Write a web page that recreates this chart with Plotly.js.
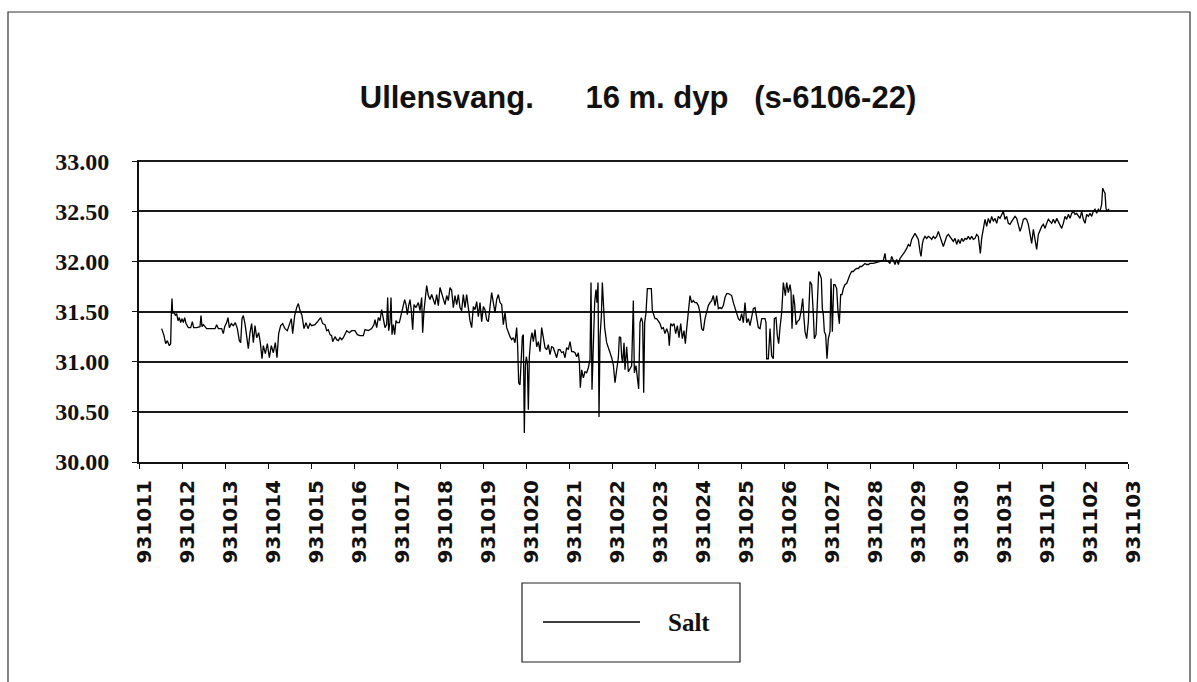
<!DOCTYPE html>
<html>
<head>
<meta charset="utf-8">
<script src="https://cdn.plot.ly/plotly-3.0.1.min.js"></script>
<style>
  html, body { margin: 0; padding: 0; background: #fff; }
  #chart { width: 1197px; height: 682px; }
</style>
</head>
<body>
<div id="chart"></div>
<script>
// ---- Data: salinity record, hours since 1993-10-11 00:00 and salt values ----
const seriesName = "Salt";
const chartTitle = "Ullensvang.\u00A0\u00A0\u00A0\u00A0\u00A0\u00A016 m. dyp\u00A0\u00A0\u00A0(s-6106-22)";
const yTickValues = [30.0, 30.5, 31.0, 31.5, 32.0, 32.5, 33.0];

const hoursA = [12.65,13.95,14.88,15.81,16.93,17.67,18.05,18.42,18.79,19.54,
  20.28,21.02,21.77,22.51,23.26,24.00,24.74,25.49,26.23,27.54,
  28.84,29.77,30.51,32.19,34.05,34.61,35.16,35.91,37.77,40.56,
  42.42,43.35,44.28,46.14,47.07,47.81,48.93,49.68,50.42,51.54,
  52.65,53.77,54.88,56.00,56.75,57.49,58.23,59.16,60.09,61.02,
  61.95,62.88,63.82,64.75,65.68,66.79,67.72,68.65,69.40,70.51,
  71.63,72.75,73.86,74.98,76.09,77.02,77.95,79.07,80.19,81.49,
  82.79,83.91,85.02,85.77,86.89,88.00,88.93,89.86,90.98,92.09,
  93.21,94.33,95.44];
const saltA = [31.33,31.26,31.18,31.21,31.16,31.18,31.48,31.63,31.48,31.50,
  31.46,31.48,31.41,31.44,31.39,31.43,31.39,31.44,31.38,31.34,
  31.34,31.40,31.34,31.34,31.35,31.46,31.35,31.37,31.33,31.33,
  31.33,31.37,31.33,31.33,31.28,31.35,31.39,31.44,31.34,31.38,
  31.36,31.39,31.33,31.21,31.19,31.43,31.46,31.38,31.23,31.13,
  31.29,31.38,31.19,31.36,31.24,31.29,31.19,31.03,31.16,31.08,
  31.18,31.04,31.16,31.09,31.19,31.04,31.28,31.36,31.38,31.33,
  31.31,31.38,31.43,31.28,31.46,31.54,31.58,31.51,31.46,31.33,
  31.39,31.33,31.38];

const hoursB = [96.37,98.23,100.09,101.40,102.51,103.82,104.75,105.68,106.61,107.54,
  108.10,109.40,110.33,111.26,112.19,113.12,114.05,114.98,115.91,117.40,
  118.70,120.56,121.86,123.35,125.21,126.14,128.00,129.86,131.17,131.72,
  132.65,133.58,134.51,135.44,136.37,137.30,138.23,138.79,139.35,140.10,
  140.65,141.21,141.96,142.70,143.44,144.19,145.30,146.42,147.54,148.28,
  149.03,149.77,150.51,151.26,152.00,152.75,153.49,154.61,155.91,156.84,
  157.77,158.33,159.07,159.82,160.56,161.49,162.42,163.35,164.28,165.21,
  166.14,167.07,168.00,168.93,169.86,170.79,171.72,172.65,173.58,174.51,
  175.44,176.37,177.30,178.23,179.16,180.09,181.02,181.95,182.88,183.81,
  184.74];
const saltB = [31.36,31.37,31.41,31.44,31.38,31.37,31.31,31.32,31.27,31.26,
  31.20,31.25,31.22,31.21,31.24,31.22,31.24,31.27,31.31,31.29,
  31.31,31.31,31.27,31.26,31.26,31.32,31.31,31.33,31.37,31.42,
  31.34,31.44,31.41,31.52,31.41,31.34,31.37,31.64,31.31,31.39,
  31.64,31.27,31.37,31.27,31.41,31.39,31.39,31.49,31.57,31.62,
  31.57,31.47,31.56,31.62,31.51,31.32,31.57,31.54,31.59,31.51,
  31.64,31.29,31.51,31.67,31.76,31.66,31.62,31.67,31.61,31.57,
  31.67,31.56,31.74,31.69,31.64,31.57,31.66,31.61,31.74,31.71,
  31.54,31.66,31.57,31.67,31.54,31.51,31.67,31.54,31.67,31.52,
  31.41];

const hoursC = [185.68,186.61,187.54,188.47,189.40,190.33,191.26,192.19,193.12,194.05,
  194.98,195.91,196.84,197.77,198.70,199.63,200.56,201.49,202.42,203.35,
  204.28,205.21,206.14,207.07,208.00,208.93,209.86,210.79,211.35,211.91,
  212.65,213.21,213.96,214.52,215.07,215.63,216.19,216.75,217.31,217.86,
  218.61,219.35,220.10,221.03,221.96,222.89,223.82,224.75,225.68,226.61,
  227.54,228.47,229.40,230.33,231.26,232.19,233.12,234.05,234.98,235.91,
  236.84,237.77,238.70,239.63,240.56,241.49,242.42,243.35,244.28,245.21,
  245.77,246.33,247.07,248.00,248.93,249.86,250.79,251.72,252.28,252.84,
  253.58,254.33,255.07,255.63,256.19,256.75,257.31,258.05,258.61,259.17,
  259.91,261.03,261.96,262.89,263.82,264.75,265.68,266.61,267.54,268.10,
  268.84,269.40,269.96,270.71,271.26,272.19,273.12];
const saltC = [31.34,31.55,31.52,31.60,31.45,31.59,31.40,31.55,31.52,31.42,
  31.40,31.57,31.69,31.59,31.49,31.62,31.67,31.59,31.57,31.37,
  31.49,31.34,31.29,31.25,31.22,31.24,31.19,31.34,31.15,30.79,
  30.77,31.02,31.25,31.27,30.29,30.95,31.05,30.99,30.52,31.05,
  31.22,31.29,31.20,31.32,31.15,31.20,31.10,31.34,31.25,31.14,
  31.12,31.17,31.07,31.15,31.14,31.09,31.04,31.12,31.12,31.09,
  31.10,31.04,31.14,31.12,31.20,31.10,31.10,31.09,31.05,31.09,
  31.00,30.74,30.92,30.84,30.90,30.89,30.94,31.02,31.79,30.72,
  31.29,31.59,31.72,31.59,31.79,30.45,31.25,31.45,31.79,31.59,
  31.34,31.19,31.14,31.10,31.04,30.97,30.79,30.92,31.04,31.25,
  31.24,31.05,30.99,31.19,30.92,31.15,30.90];

const hoursD = [274.05,274.98,275.91,276.47,277.40,278.14,278.89,279.63,280.38,281.12,
  281.68,282.24,282.98,283.73,284.84,285.96,286.52,287.08,288.01,288.94,
  289.87,290.80,291.73,292.66,293.59,294.52,295.45,296.00,296.75,297.68,
  298.61,299.54,300.47,301.40,302.33,303.26,304.19,304.94,305.68,306.61,
  307.54,308.47,309.40,310.33,311.26,312.19,313.12,314.05,314.98,315.91,
  316.84,317.77,318.70,319.63,320.56,321.49,322.42,323.35,324.28,325.21,
  326.14,327.07,328.00,328.93,329.86,330.79,331.73,332.66,333.59,334.52,
  335.45,336.38,337.31,338.24,339.17,340.10,341.03,341.96,342.89,343.82,
  344.75,345.68,346.61,347.54,348.47,349.40,349.96,350.33,351.26,352.19,
  353.12,354.05,354.61,355.54,356.28,357.03,357.77,358.70,359.63,360.19,
  360.75,361.49,362.42];
const saltD = [30.93,30.96,31.61,30.89,30.96,30.83,30.73,31.39,31.44,31.39,
  30.69,31.39,31.49,31.73,31.73,31.73,31.51,31.48,31.43,31.43,
  31.41,31.38,31.33,31.34,31.28,31.33,31.28,31.16,31.38,31.36,
  31.38,31.28,31.36,31.24,31.38,31.23,31.31,31.18,31.33,31.49,
  31.66,31.59,31.61,31.59,31.59,31.56,31.49,31.33,31.31,31.43,
  31.49,31.56,31.59,31.61,31.66,31.56,31.66,31.53,31.54,31.53,
  31.56,31.64,31.68,31.68,31.67,31.66,31.59,31.54,31.49,31.43,
  31.41,31.48,31.39,31.59,31.39,31.43,31.36,31.46,31.53,31.54,
  31.44,31.34,31.33,31.43,31.43,31.43,31.39,31.03,31.03,31.33,
  31.06,31.03,31.43,31.44,31.26,31.18,31.34,31.49,31.79,31.73,
  31.66,31.79,31.69];

const hoursE = [363.35,363.91,364.47,365.22,365.96,366.70,367.45,368.57,369.50,370.43,
  371.17,371.73,372.66,373.59,374.52,375.45,376.38,376.94,377.87,378.61,
  379.36,380.10,380.84,381.40,381.96,382.52,383.26,384.00,384.75,385.68,
  386.24,386.98,387.73,388.47,389.40,390.14,390.89,391.63,392.38,393.12,
  394.05,394.98,395.91,396.84,397.77,398.70,399.63,400.56,401.49,402.42,
  403.35,404.28,405.21,406.14,407.07,408.00,409.86,411.73,413.59,415.45,
  416.38,416.94,418.24,419.17,420.10,421.03,421.96,422.89,423.82,424.75,
  425.68,426.61,427.54,428.47,429.40,430.33,431.26,432.19,433.12,434.05,
  434.98,435.91,436.47,437.21,437.77,438.70,439.63,440.56,441.49,442.42,
  443.35,444.28,445.21,446.14,447.07,448.00,448.93,449.86,450.79,451.73,
  452.66,453.59,454.52];
const saltE = [31.77,31.70,31.33,31.67,31.57,31.37,31.40,31.42,31.50,31.63,
  31.43,31.30,31.23,31.40,31.80,31.77,31.47,31.23,31.27,31.57,
  31.90,31.87,31.83,31.53,31.47,31.30,31.27,31.03,31.23,31.30,
  31.83,31.30,31.77,31.77,31.73,31.50,31.38,31.67,31.67,31.73,
  31.77,31.78,31.83,31.87,31.90,31.90,31.92,31.93,31.93,31.95,
  31.95,31.97,31.98,31.97,31.97,31.98,31.98,31.99,32.00,32.01,
  32.08,32.00,32.00,31.98,32.05,32.00,31.97,32.02,31.97,32.03,
  32.05,32.07,32.10,32.13,32.17,32.15,32.22,32.25,32.28,32.25,
  32.22,32.10,32.05,32.17,32.22,32.25,32.23,32.25,32.24,32.22,
  32.25,32.23,32.25,32.30,32.25,32.22,32.15,32.20,32.25,32.27,
  32.25,32.22,32.20];

const hoursF = [455.45,456.38,457.31,458.24,459.17,460.10,461.03,461.96,462.89,463.82,
  464.75,465.68,466.61,467.54,468.47,469.03,469.59,470.33,471.26,472.19,
  473.12,474.05,474.98,475.91,476.84,477.77,478.70,479.63,480.56,481.49,
  482.42,483.35,484.28,485.21,486.14,487.07,488.00,488.93,489.86,490.79,
  491.73,492.66,493.59,494.52,495.45,496.38,497.31,498.24,499.17,500.10,
  501.03,501.96,502.89,503.82,504.75,505.68,506.61,507.54,508.47,509.40,
  510.33,511.26,512.19,513.12,514.05,514.98,515.91,516.84,517.77,518.70,
  519.63,520.56,521.49,522.42,523.35,524.28,525.21,526.14,527.07,528.00,
  528.93,529.86,530.79,531.72,532.65,533.58,534.51,535.44,536.37,537.30,
  537.86,538.61,539.17,539.72,540.28,541.03,541.58];
const saltF = [32.23,32.17,32.22,32.18,32.23,32.20,32.23,32.22,32.25,32.22,
  32.25,32.22,32.23,32.27,32.25,32.12,32.08,32.23,32.35,32.42,
  32.35,32.43,32.38,32.45,32.40,32.43,32.38,32.45,32.43,32.47,
  32.50,32.42,32.45,32.38,32.37,32.40,32.43,32.45,32.43,32.35,
  32.30,32.35,32.42,32.43,32.42,32.37,32.27,32.18,32.32,32.23,
  32.12,32.27,32.32,32.35,32.37,32.33,32.38,32.42,32.40,32.38,
  32.42,32.38,32.43,32.40,32.37,32.33,32.38,32.45,32.42,32.47,
  32.43,32.48,32.50,32.47,32.48,32.45,32.43,32.50,32.42,32.38,
  32.47,32.45,32.48,32.45,32.50,32.52,32.48,32.52,32.50,32.57,
  32.73,32.70,32.68,32.53,32.50,32.52,32.52];

// ---- Build series ----
const startMs = Date.UTC(1993, 9, 11, 0, 0, 0);
function toDate(h) {
  return new Date(startMs + h * 3600000).toISOString().replace('T', ' ').slice(0, 19);
}
const allHours = [].concat(hoursA, hoursB, hoursC, hoursD, hoursE, hoursF);
const allSalt = [].concat(saltA, saltB, saltC, saltD, saltE, saltF);
const xDates = allHours.map(toDate);

// ---- Layout geometry (pixels -> paper) ----
const W = 1197, H = 682;
const M = { l: 139, r: 69, t: 160, b: 220 };
const PW = W - M.l - M.r, PH = H - M.t - M.b;
const px = x => (x - M.l) / PW;
const py = y => (H - M.b - y) / PH;

const trace = {
  type: 'scatter', mode: 'lines', name: seriesName,
  x: xDates, y: allSalt,
  line: { color: '#000', width: 1.3 },
  showlegend: false, hoverinfo: 'x+y'
};

const layout = {
  width: W, height: H,
  margin: M,
  paper_bgcolor: '#fff', plot_bgcolor: '#fff',
  showlegend: false,
  title: {
    text: chartTitle,
    font: { family: 'Liberation Sans, Arial, sans-serif', size: 31, color: '#111', weight: 'bold' },
    x: 638 / W, xref: 'container', xanchor: 'center',
    y: 1 - 97 / H, yref: 'container', yanchor: 'middle'
  },
  xaxis: {
    type: 'date',
    range: ['1993-10-11 00:00:00', '1993-11-03 00:00:00'],
    tick0: '1993-10-11', dtick: 86400000,
    tickformat: '%y%m%d',
    tickangle: -90,
    tickfont: { family: 'DejaVu Sans, sans-serif', size: 20, color: '#111', weight: 'bold' },
    ticks: 'outside', ticklen: 5, tickwidth: 1, tickcolor: '#111',
    ticklabelstandoff: 3, ticklabelshift: 5,
    showline: true, linecolor: '#111', linewidth: 2,
    showgrid: false, zeroline: false, fixedrange: true
  },
  yaxis: {
    range: [30, 33.012],
    tickvals: yTickValues,
    tickformat: '.2f',
    tickfont: { family: 'Liberation Serif, Times New Roman, serif', size: 24, color: '#111', weight: 'bold' },
    ticks: 'outside', ticklen: 5, tickwidth: 1, tickcolor: '#111',
    ticklabelstandoff: 18,
    showline: true, linecolor: '#111', linewidth: 2,
    showgrid: true, gridcolor: '#1a1a1a', gridwidth: 2,
    zeroline: false, fixedrange: true
  },
  shapes: [
    // outer chart frame
    { type: 'rect', xref: 'paper', yref: 'paper',
      x0: px(8), x1: px(1190), y0: py(700), y1: py(12),
      line: { color: '#333', width: 1.2 }, fillcolor: 'rgba(0,0,0,0)', layer: 'below' },
    // legend box
    { type: 'rect', xref: 'paper', yref: 'paper',
      x0: px(522), x1: px(740), y0: py(662), y1: py(583),
      line: { color: '#222', width: 1.2 }, fillcolor: 'rgba(0,0,0,0)' },
    // legend line sample
    { type: 'line', xref: 'paper', yref: 'paper',
      x0: px(543), x1: px(640), y0: py(622), y1: py(622),
      line: { color: '#000', width: 1.3 } }
  ],
  annotations: [
    { text: seriesName, xref: 'paper', yref: 'paper',
      x: px(666), y: py(622), xanchor: 'left', yanchor: 'middle', showarrow: false,
      font: { family: 'Liberation Serif, Times New Roman, serif', size: 25, color: '#111', weight: 'bold' } }
  ]
};

Plotly.newPlot('chart', [trace], layout, { staticPlot: true, displayModeBar: false });
</script>
</body>
</html>
